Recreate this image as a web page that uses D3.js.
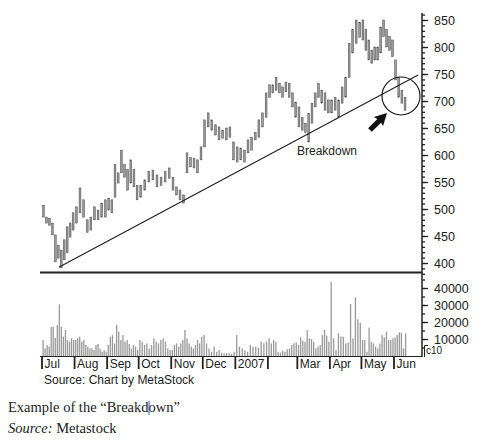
<!DOCTYPE html>
<html>
<head>
<meta charset="utf-8">
<script src="https://cdn.jsdelivr.net/npm/d3@7"></script>
<style>
  body { margin: 0; background: #fff; }
  svg text { font-family: "Liberation Sans", Arial, sans-serif; fill: #222; }
</style>
</head>
<body>
<svg id="chart" width="489" height="444"></svg>
<script>
// months on the time axis
const monthStarts = ['2006-07-01', '2006-08-01', '2006-09-01', '2006-10-01', '2006-11-01', '2006-12-01',
  '2007-01-01', '2007-02-01', '2007-03-01', '2007-04-01', '2007-05-01', '2007-06-01'];
const monthLabels = ['Jul', 'Aug', 'Sep', 'Oct', 'Nov', 'Dec', '2007', '', 'Mar', 'Apr', 'May', 'Jun'];
const lastDay = '2007-06-13';

// daily highs / lows, grouped by month
const highs = [
  [507, 485, 483, 474, 452, 433, 424, 443, 467, 474, 493],
  [504, 539, 517, 480, 485, 504, 498, 511, 517],
  [520, 517, 582, 567, 609, 582, 573, 591, 573, 544],
  [544, 554, 569, 572, 563, 559, 569, 576],
  [559, 541, 535, 526, 604, 595, 594, 591, 615],
  [665, 678, 665, 656, 652, 646, 650, 652, 624],
  [615, 613, 609, 628, 633, 642, 665, 678, 715],
  [730, 730, 744, 733, 726, 735, 733, 715, 698],
  [689, 670, 659, 677, 696, 715, 733, 720, 715, 702],
  [702, 707, 702, 726, 744, 807, 832, 850, 846],
  [850, 832, 813, 794, 800, 800, 837, 850, 832, 819, 813],
  [776, 744, 720, 707]
];
const lows = [
  [485, 474, 470, 452, 402, 409, 391, 406, 419, 448, 461],
  [474, 493, 485, 457, 461, 480, 480, 485, 485],
  [498, 493, 522, 548, 567, 559, 535, 548, 541, 517],
  [522, 535, 550, 554, 541, 544, 550, 557],
  [535, 526, 517, 511, 567, 578, 576, 567, 591],
  [615, 652, 646, 637, 628, 631, 628, 633, 591],
  [587, 591, 587, 604, 609, 628, 633, 652, 670],
  [707, 715, 720, 715, 707, 717, 707, 689, 670],
  [652, 646, 642, 624, 659, 689, 707, 696, 683, 678],
  [678, 683, 670, 696, 707, 744, 789, 807, 818],
  [813, 794, 776, 770, 776, 776, 789, 819, 800, 794, 782],
  [739, 707, 696, 683]
];
const volumes = [
  [9400, 4500, 6500, 5500, 17200, 17200, 10600, 18200, 30400, 17200, 11400, 15300, 9400, 8400, 10400, 9400],
  [9400, 10400, 11400, 8400, 9400, 6500, 5500, 4500, 4500, 3500, 6500, 7100, 4500, 2500, 3500, 2500],
  [6500, 11400, 12300, 7400, 18200, 14300, 9400, 12300, 8400, 9400, 7100, 4500, 6500, 5500, 3500],
  [9400, 8400, 6500, 7400, 4500, 6500, 10400, 8400, 7400, 9400, 10400, 8400, 4500, 3500],
  [3500, 6500, 7400, 5500, 7400, 9400, 15300, 10400, 7400, 5500, 4500, 6500, 9400, 7400, 11400],
  [12300, 7400, 4500, 2500, 5500, 2500, 3500, 2000, 1600, 1600, 1600, 1200, 2500],
  [12300, 5500, 4500, 3300, 2500, 6400, 5500, 5500, 4900, 8400, 7500, 8400],
  [10400, 7400, 9400, 8400, 2500, 2000, 3000, 2500, 4000, 4500, 6500, 7500, 8000],
  [6500, 11000, 9000, 8400, 15300, 10400, 10000, 8400, 4500, 5500, 6500, 12300, 15300, 12000, 8400],
  [43700, 10400, 3500, 13300, 11500, 11400, 7400, 8000, 30600, 10400, 34500, 21600, 19600],
  [9400, 9400, 2500, 16700, 8400, 7400, 5500, 4500, 7400, 12300, 11000, 14300, 9400, 9400, 10400],
  [11000, 12300, 13900, 13700, 4500, 13300]
];
const priceTicks = [400, 450, 500, 550, 600, 650, 700, 750, 800, 850];
const volumeTicks = [10000, 20000, 30000, 40000];
const trendline = [['2006-07-17', 392], ['2007-06-24', 748]];

const parse = d3.timeParse('%Y-%m-%d');
const starts = monthStarts.map(parse);
const end = parse(lastDay);

// spread each month's values evenly over that month
function spread(groups) {
  const out = [];
  groups.forEach((g, m) => {
    const t0 = starts[m], t1 = m < starts.length - 1 ? starts[m + 1] : end;
    g.forEach((v, j) => out.push({ date: new Date(+t0 + (j + 0.5) / g.length * (t1 - t0)), v: v, m: m, j: j }));
  });
  return out;
}
const bars = spread(highs).map(d => ({ date: d.date, high: d.v, low: lows[d.m][d.j] }));
const vols = spread(volumes);

const svg = d3.select('#chart');

const x = d3.scaleTime().domain([starts[0], starts[11]]).range([42, 394]);
const y = d3.scaleLinear().domain([400, 850]).range([263, 20]);
const yv = d3.scaleLinear().domain([0, 40000]).range([356, 288]);

// price bars
svg.append('g').selectAll('rect')
  .data(bars)
  .enter()
  .append('rect')
  .attr('x', d => x(d.date) - 0.9)
  .attr('width', 1.8)
  .attr('y', d => y(d.high))
  .attr('height', d => y(d.low) - y(d.high))
  .attr('fill', '#9a9a9a')
  .attr('stroke', '#4a4a4a')
  .attr('stroke-width', 0.5);

// trendline
svg.append('path')
  .datum(trendline)
  .attr('d', d3.line().x(d => x(parse(d[0]))).y(d => y(d[1])))
  .attr('stroke', '#222')
  .attr('stroke-width', 1.2)
  .attr('fill', 'none');

// volume bars
svg.append('g').selectAll('rect')
  .data(vols)
  .enter()
  .append('rect')
  .attr('x', d => x(d.date) - 0.6)
  .attr('width', 1.3)
  .attr('y', d => yv(d.v))
  .attr('height', d => yv(0) - yv(d.v))
  .attr('fill', '#999');

// panel lines
svg.append('line').attr('x1', 40).attr('x2', 422).attr('y1', 272.5).attr('y2', 272.5)
  .attr('stroke', '#222').attr('stroke-width', 2);
svg.append('line').attr('x1', 40).attr('x2', 422).attr('y1', 356.5).attr('y2', 356.5)
  .attr('stroke', '#222').attr('stroke-width', 1.2);
svg.append('line').attr('x1', 422).attr('x2', 422).attr('y1', 13).attr('y2', 357)
  .attr('stroke', '#222').attr('stroke-width', 1.5);

// price and volume axes
const pMinor = svg.append('g').attr('transform', 'translate(422,0)')
  .call(d3.axisRight(y).tickValues(d3.range(380, 861, 10)).tickSize(3).tickFormat(''));
const pMajor = svg.append('g').attr('transform', 'translate(422,0)')
  .call(d3.axisRight(y).tickValues(priceTicks).tickSize(6).tickPadding(6));
const vMinor = svg.append('g').attr('transform', 'translate(422,0)')
  .call(d3.axisRight(yv).tickValues(d3.range(5000, 46000, 5000)).tickSize(3).tickFormat(''));
const vMajor = svg.append('g').attr('transform', 'translate(422,0)')
  .call(d3.axisRight(yv).tickValues(volumeTicks).tickSize(6).tickPadding(6).tickFormat(d3.format('d')));
[pMinor, pMajor, vMinor, vMajor].forEach(g => {
  g.select('.domain').remove();
  g.selectAll('line').attr('stroke', '#222').attr('stroke-width', 1.3);
  g.selectAll('text').attr('font-size', 12.5).attr('fill', '#222');
});

// c10 marker
svg.append('path').attr('d', 'M424.5,357 V345.5 H428').attr('stroke', '#222').attr('fill', 'none');
svg.append('text').attr('x', 426).attr('y', 354).attr('font-size', 10).text('c10');

// month axis
const mAxis = svg.append('g').attr('transform', 'translate(0,356)');
mAxis.selectAll('line')
  .data(starts)
  .enter()
  .append('line')
  .attr('x1', d => x(d)).attr('x2', d => x(d))
  .attr('y1', 0).attr('y2', 13)
  .attr('stroke', '#222').attr('stroke-width', 1.8);
mAxis.selectAll('text')
  .data(starts)
  .enter()
  .append('text')
  .attr('x', d => x(d) + 2.5)
  .attr('y', 11.5)
  .attr('font-size', 12)
  .text((d, i) => monthLabels[i]);

svg.append('text').attr('x', 44).attr('y', 384).attr('font-size', 12)
  .text('Source: Chart by MetaStock');

// annotations
svg.append('text').attr('x', 297).attr('y', 155).attr('font-size', 12).text('Breakdown');
svg.append('circle').attr('cx', 401).attr('cy', 96).attr('r', 19)
  .attr('fill', 'none').attr('stroke', '#111').attr('stroke-width', 1.1);
svg.append('path')
  .attr('d', 'M0,-2.6 L13,-2.6 L12,-6.5 L24,0 L12,6.5 L13,2.6 L0,2.6 Z')
  .attr('transform', 'translate(370,130) rotate(-45)')
  .attr('fill', '#111');

// caption
const caption = svg.append('text').attr('x', 8).attr('y', 412)
  .style('font-family', '"Liberation Serif", "Times New Roman", serif')
  .attr('font-size', 14.5)
  .text('Example of the \u201CBreakdown\u201D');
// text cursor after "Breakd"
const cx = 8 + caption.node().getSubStringLength(0, 22);
svg.append('line').attr('x1', cx + 0.5).attr('x2', cx + 0.5).attr('y1', 401).attr('y2', 415)
  .attr('stroke', '#3060c8').attr('stroke-width', 1);
const src = svg.append('text').attr('x', 8).attr('y', 433)
  .style('font-family', '"Liberation Serif", "Times New Roman", serif')
  .attr('font-size', 14.5);
src.append('tspan').attr('font-style', 'italic').text('Source:');
src.append('tspan').text(' Metastock');
</script>
</body>
</html>
